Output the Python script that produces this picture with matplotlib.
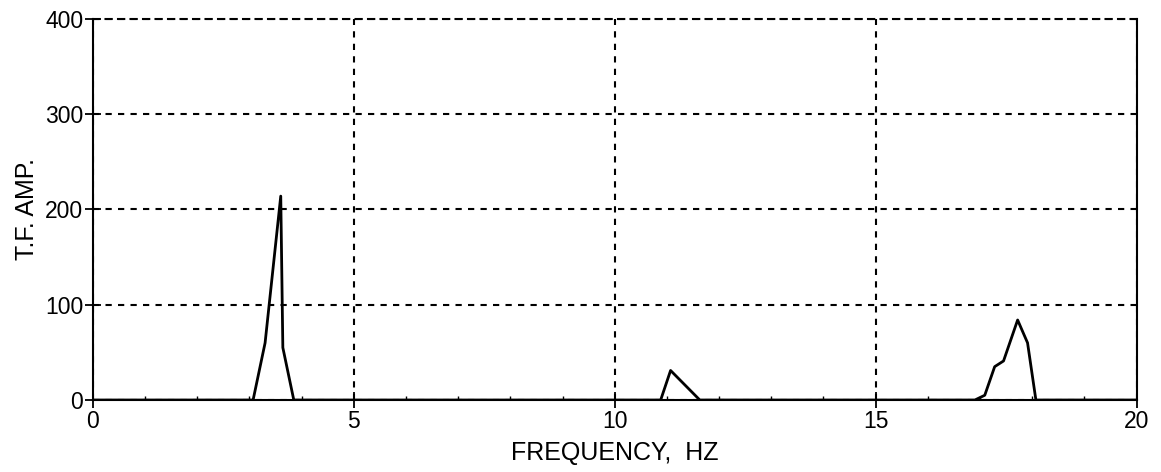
import matplotlib
matplotlib.use("Agg")
import matplotlib.pyplot as plt
from matplotlib.ticker import MultipleLocator

plt.rcParams['font.family'] = ['Liberation Sans', 'DejaVu Sans']

# Transfer function amplitude vs frequency
freq = [0.0, 3.07, 3.30, 3.60, 3.64, 3.85, 10.88, 11.07, 11.63,
        16.90, 17.09, 17.28, 17.45, 17.72, 17.91, 18.07, 20.0]
amp = [0, 0, 60, 214, 55, 0, 0, 31, 0,
       0, 5, 35, 41, 84, 60, 0, 0]

x_ticks = [0, 5, 10, 15, 20]
y_ticks = [0, 100, 200, 300, 400]

fig = plt.figure(figsize=(11.61, 4.72), dpi=100)
ax = fig.add_axes([0.080, 0.1525, 0.899, 0.8075])

ax.plot(freq, amp, color="black", lw=2.0)

ax.set_xlim(0, 20)
ax.set_ylim(0, 400)
ax.set_xticks(x_ticks)
ax.set_yticks(y_ticks)
ax.xaxis.set_minor_locator(MultipleLocator(1))
ax.tick_params(axis="both", which="major", direction="inout", length=12,
               width=1.3, labelsize=16.5, pad=1)
ax.tick_params(axis="x", which="minor", direction="in", length=3, width=1)

ax.grid(True, which="major", color="black", linestyle=(0, (3, 3)), lw=1.5)

for side in ["left", "bottom", "right"]:
    ax.spines[side].set_linewidth(1.5)
ax.spines["top"].set_linestyle((0, (3, 3)))
ax.spines["top"].set_linewidth(1.5)

ax.set_xlabel("FREQUENCY,  HZ", fontsize=18, labelpad=6)
ax.set_ylabel("T.F. AMP.", fontsize=18, labelpad=4)

fig.savefig("out.png", dpi=100)
plt.close(fig)
